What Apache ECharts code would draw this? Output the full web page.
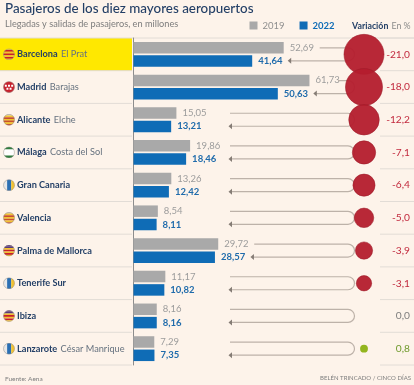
<!DOCTYPE html>
<html>
<head>
<meta charset="utf-8">
<script src="https://cdn.jsdelivr.net/npm/echarts@6/dist/echarts.min.js"></script>
<style>
  html, body { margin: 0; padding: 0; background: #fdf3ea; }
  #main { width: 414px; height: 385px; }
</style>
</head>
<body>
<div id="main"></div>
<script>
var airports = ['Barcelona', 'Madrid', 'Alicante', 'Málaga', 'Gran Canaria', 'Valencia', 'Palma de Mallorca', 'Tenerife Sur', 'Ibiza', 'Lanzarote'];
var places = ['El Prat', 'Barajas', 'Elche', 'Costa del Sol', '', '', '', '', '', 'César Manrique'];
var flags = ['cat', 'mad', 'val', 'and', 'can', 'val', 'bal', 'can', 'bal', 'can'];
var pax2019 = [52.69, 61.73, 15.05, 19.86, 13.26, 8.54, 29.72, 11.17, 8.16, 7.29];
var pax2022 = [41.64, 50.63, 13.21, 18.46, 12.42, 8.11, 28.57, 10.82, 8.16, 7.35];
var variation = [-21.0, -18.0, -12.2, -7.1, -6.4, -5.0, -3.9, -3.1, 0.0, 0.8];

var FONT = 'Lato';
var NAVY = '#233f66';
var GREY = '#a9a9a9';
var BLUE = '#0f6cb6';
var RED = '#b41c2d';
var GREEN = '#93b51f';
var BG = '#fdf3ea';
var ROW_TOP = 38, ROW_H = 32.7, AXIS_X = 132;

// banderas
function stripes(colors) {
  var h = 16 / colors.length, s = '';
  colors.forEach(function (c, i) {
    s += '<rect x="0" y="' + (i * h) + '" width="16" height="' + (h + 0.1) + '" fill="' + c + '"/>';
  });
  return s;
}
var flagSvg = {
  cat: stripes(['#f2c230', '#c8202c', '#f2c230', '#c8202c', '#f2c230', '#c8202c', '#f2c230']),
  mad: '<rect width="16" height="16" fill="#c8202c"/>' +
       '<path d="M2.5 5h2.6v2.6H2.5zM6.7 5h2.6v2.6H6.7zM10.9 5h2.6v2.6h-2.6zM4.6 9h2.6v2.6H4.6zM8.8 9h2.6v2.6H8.8z" fill="#fff"/>',
  val: stripes(['#cfc7b8', '#f2c230', '#c8502c', '#f2c230', '#c8502c', '#f2c230', '#c8502c']),
  and: stripes(['#2e7d3e', '#fff', '#fff', '#2e7d3e']),
  can: '<rect width="5.5" height="16" fill="#e8e8e8"/><rect x="5.5" width="5.5" height="16" fill="#2b6fb3"/><rect x="11" width="5" height="16" fill="#f2c230"/>',
  bal: stripes(['#5b3a78', '#5b3a78', '#f2c230', '#c8202c', '#f2c230', '#c8202c', '#f2c230'])
};
function flagUrl(k) {
  var svg = '<svg xmlns="http://www.w3.org/2000/svg" width="16" height="16" viewBox="0 0 16 16">' +
    '<clipPath id="c"><circle cx="8" cy="8" r="7.5"/></clipPath><g clip-path="url(#c)">' + flagSvg[k] + '</g>' +
    '<circle cx="8" cy="8" r="7.3" fill="none" stroke="#9a948c" stroke-width="0.7"/></svg>';
  return 'data:image/svg+xml;charset=utf-8,' + encodeURIComponent(svg);
}

var rich = {
  name: { fontFamily: FONT, fontSize: 9.2, fontWeight: 700, color: NAVY, padding: [0, 0, 0, 2] },
  place: { fontFamily: FONT, fontSize: 9.2, color: '#66727f' }
};
Object.keys(flagSvg).forEach(function (k) {
  rich[k] = { width: 12, height: 12, backgroundColor: { image: flagUrl(k) } };
});

// conectores de cada fila
function renderLink(params, api) {
  var i = api.value(0);
  var top = api.coord([api.value(1), i]);
  var bot = api.coord([api.value(2), i]);
  var yTop = top[1] - 6.5, yBot = top[1] + 6.5;
  var xEnd = 354.5, r = 6.5;
  var xTop = Math.max(230, Math.min(338, top[0] + 36));
  var xBot = Math.max(230, bot[0] + 37);
  return {
    type: 'group',
    children: [{
      type: 'path',
      shape: {
        pathData: 'M' + xTop + ' ' + yTop + 'L' + (xEnd - r) + ' ' + yTop +
          'A' + r + ' ' + r + ' 0 0 1 ' + (xEnd - r) + ' ' + yBot + 'L' + xBot + ' ' + yBot
      },
      style: { fill: 'none', stroke: '#bdb2a9', lineWidth: 1.2 }
    }, {
      type: 'polygon',
      shape: { points: [[xBot - 1.5, yBot], [xBot + 2, yBot - 3], [xBot + 2, yBot + 3]] },
      style: { fill: '#857c75' }
    }]
  };
}

var chart = echarts.init(document.getElementById('main'), null, { renderer: 'canvas' });

var lines = [];
for (var i = 0; i <= 10; i++) {
  var y = ROW_TOP + i * ROW_H;
  lines.push({ type: 'line', z: -1, shape: { x1: 0, y1: y, x2: AXIS_X, y2: y }, style: { stroke: '#e2dcd6', lineWidth: 1 } });
  lines.push({ type: 'line', z: -1, shape: { x1: 380, y1: y, x2: 414, y2: y }, style: { stroke: '#e2dcd6', lineWidth: 1 } });
}

chart.setOption({
  animation: false,
  backgroundColor: BG,
  title: {
    text: 'Pasajeros de los diez mayores aeropuertos',
    left: 5, top: 2, padding: 0,
    textStyle: { fontFamily: FONT, fontSize: 13.4, fontWeight: 500, color: NAVY }
  },
  legend: {
    left: 249.5, top: 20.5, padding: 0, itemWidth: 8, itemHeight: 8, itemGap: 15, icon: 'rect',
    selectedMode: false,
    data: [
      { name: '2019', textStyle: { fontFamily: FONT, fontSize: 9.5, color: '#8f8f8f' } },
      { name: '2022', textStyle: { fontFamily: FONT, fontSize: 9.5, fontWeight: 700, color: BLUE } }
    ]
  },
  graphic: lines.concat([
    { type: 'rect', z: -2, shape: { x: 0, y: ROW_TOP, width: AXIS_X, height: ROW_H }, style: { fill: '#ffe800' } },
    { type: 'line', z: -1, shape: { x1: AXIS_X, y1: ROW_TOP, x2: 414, y2: ROW_TOP }, style: { stroke: '#e2dcd6', lineWidth: 1 } },
    { type: 'text', left: 5, top: 19.5, style: { text: 'Llegadas y salidas de pasajeros, en millones', fontFamily: FONT, fontSize: 9.2, fill: '#7d7d7d' } },
    { type: 'text', left: 352, top: 20, style: { text: '{a|Variación} {b|En %}', fontFamily: FONT,
      rich: { a: { fontFamily: FONT, fontSize: 8.8, fontWeight: 700, fill: NAVY, color: NAVY }, b: { fontFamily: FONT, fontSize: 8.8, fill: '#8a8a8a', color: '#8a8a8a' } } } },
    { type: 'text', left: 5, top: 375, style: { text: 'Fuente: Aena', fontFamily: FONT, fontSize: 6.5, fill: '#7d7d7d' } },
    { type: 'text', right: 3, top: 375, style: { text: 'BELÉN TRINCADO / CINCO DÍAS', fontFamily: FONT, fontSize: 6, fill: '#7d7d7d' } }
  ]),
  grid: [
    { left: AXIS_X, right: 4, top: ROW_TOP, height: ROW_H * 10 },
    { left: 344, width: 40, top: ROW_TOP, height: ROW_H * 10 }
  ],
  xAxis: [
    { type: 'value', gridIndex: 0, min: 0, max: 97, show: false },
    { type: 'category', gridIndex: 1, data: ['Variación'], show: false }
  ],
  yAxis: [
    {
      type: 'category', gridIndex: 0, inverse: true, data: airports,
      axisTick: { show: false },
      axisLine: { lineStyle: { color: '#8d8d8d', width: 1 } },
      axisLabel: {
        align: 'left', margin: AXIS_X - 1.5,
        formatter: function (v, i) {
          return '{' + flags[i] + '|}{name|' + v + '}' + (places[i] ? ' {place|' + places[i] + '}' : '');
        },
        rich: rich
      }
    },
    {
      type: 'category', gridIndex: 0, inverse: true, position: 'right',
      data: variation.map(function (v) { return v.toFixed(1).replace('.', ','); }),
      axisTick: { show: false }, axisLine: { show: false },
      axisLabel: {
        align: 'right', margin: 0,
        fontFamily: FONT, fontSize: 10.2,
        color: function (v, i) {
          return variation[i] < 0 ? '#c22a3e' : variation[i] > 0 ? '#6f9a2c' : '#7d7d7d';
        }
      }
    },
    { type: 'category', gridIndex: 1, inverse: true, data: airports, show: false }
  ],
  series: [
    {
      name: '2019', type: 'bar', xAxisIndex: 0, yAxisIndex: 0, data: pax2019,
      barWidth: 11.5, barGap: '16%', itemStyle: { color: GREY }, z: 2,
      label: {
        show: true, position: 'right', distance: 6, fontFamily: FONT, fontSize: 9.5, color: '#9c9c9c',
        formatter: function (p) { return p.value.toFixed(2).replace('.', ','); }
      }
    },
    {
      name: '2022', type: 'bar', xAxisIndex: 0, yAxisIndex: 0, data: pax2022,
      barWidth: 11.5, itemStyle: { color: BLUE }, z: 2,
      label: {
        show: true, position: 'right', distance: 6, fontFamily: FONT, fontSize: 9.5, fontWeight: 700, color: '#1f6bab',
        formatter: function (p) { return p.value.toFixed(2).replace('.', ','); }
      }
    },
    {
      type: 'custom', xAxisIndex: 0, yAxisIndex: 0, z: 3, silent: true,
      encode: { x: [1, 2], y: 0 },
      data: airports.map(function (a, i) { return [i, pax2019[i], pax2022[i]]; }),
      renderItem: renderLink
    },
    {
      type: 'scatter', xAxisIndex: 1, yAxisIndex: 2, z: 4,
      data: variation.map(function (v, i) {
        return {
          value: ['Variación', i, v],
          itemStyle: v > 0 ? { color: GREEN, opacity: 1, borderWidth: 0 }
                           : { color: RED, opacity: 0.95, borderColor: '#9d1a28', borderWidth: 0.6 }
        };
      }),
      symbolSize: function (d) { return 40 * Math.sqrt(Math.abs(d[2]) / 21); }
    }
  ]
});
</script>
</body>
</html>
